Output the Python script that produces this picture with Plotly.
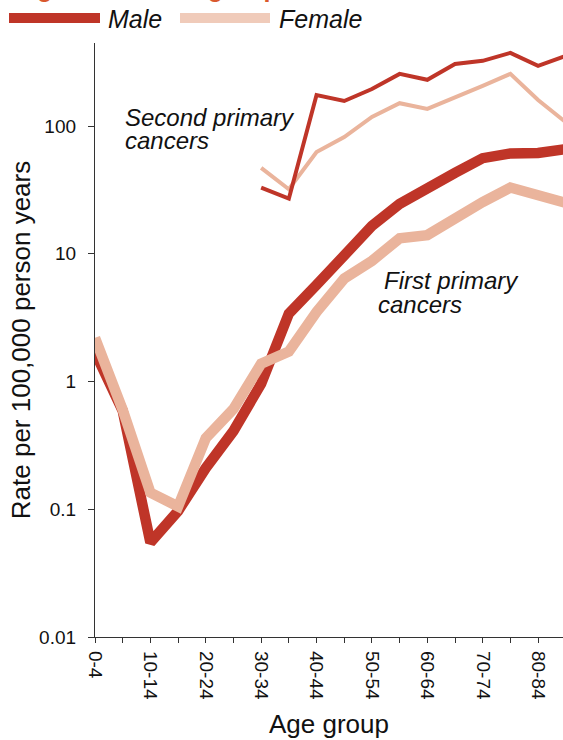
import plotly.graph_objects as go

age_groups = ["0-4", "5-9", "10-14", "15-19", "20-24", "25-29", "30-34", "35-39",
              "40-44", "45-49", "50-54", "55-59", "60-64", "65-69", "70-74", "75-79",
              "80-84", "85+"]
tick_labels = ["0-4", "", "10-14", "", "20-24", "", "30-34", "", "40-44", "",
               "50-54", "", "60-64", "", "70-74", "", "80-84", ""]

first_male = [1.7, 0.59, 0.055, 0.097, 0.21, 0.41, 0.96, 3.4, 5.7, 9.8, 16.5,
              24.6, 33, 43, 56, 61, 61.5, 66]
first_female = [2.2, 0.6, 0.135, 0.105, 0.36, 0.61, 1.38, 1.72, 3.5, 6.4, 8.8,
                13.2, 14, 19.3, 25.4, 33, 28.5, 25]
second_male = [None, None, None, None, None, None, 33, 27, 175, 157, 195, 256,
               230, 306, 324, 374, 296, 354]
second_female = [None, None, None, None, None, None, 47, 32, 62.5, 82, 118, 151,
                 136, 166, 206, 256, 160, 107]

y_ticks = [0.01, 0.1, 1, 10, 100]
y_tick_text = ["0.01", "0.1", "1", "10", "100"]
legend_names = ["Male", "Female"]

MALE = "#BF3528"
FEMALE = "#EAB49C"
FEMALE_KEY = "#F0CBBA"
FONT = "Liberation Sans, Arial, sans-serif"

W, H = 563, 740
ML, MR, MT, MB = 95, 0, 43, 103
PW, PH = W - ML - MR, H - MT - MB


def px_x(p):
    return (p - ML) / PW


def px_y(p):
    return (H - MB - p) / PH


fig = go.Figure()
fig.add_trace(go.Scatter(x=age_groups, y=first_male, mode="lines", name=legend_names[0],
                         line=dict(color=MALE, width=10.5)))
fig.add_trace(go.Scatter(x=age_groups, y=first_female, mode="lines", name=legend_names[1],
                         line=dict(color=FEMALE, width=10.5)))
fig.add_trace(go.Scatter(x=age_groups, y=second_female, mode="lines", name="Female (second)",
                         line=dict(color=FEMALE, width=4)))
fig.add_trace(go.Scatter(x=age_groups, y=second_male, mode="lines", name="Male (second)",
                         line=dict(color=MALE, width=4)))

ann_font = dict(family=FONT, size=24, color="#111111", style="italic")
for (ax, ay, txt) in [(1.0, 2.07, "Second primary"), (1.0, 1.885, "cancers"),
                      (10.35, 0.79, "First primary"), (10.13, 0.60, "cancers")]:
    fig.add_annotation(x=ax, y=ay, xref="x", yref="y", text=txt,
                       showarrow=False, xanchor="left", yanchor="middle", font=ann_font)

# cropped title (only descenders visible at the very top)
fig.add_annotation(x=px_x(10), y=px_y(3.5), xref="paper", yref="paper",
                   text="<b>Highest in older group</b>", showarrow=False,
                   xanchor="left", yanchor="bottom",
                   font=dict(family=FONT, size=25, color="#D9592E"))

# legend (drawn as key lines + labels)
leg_font = dict(family=FONT, size=25, color="#111111", style="italic")
for (x0, x1, col, tx, name) in [(9, 100, MALE, 106, legend_names[0]),
                                (180, 270, FEMALE_KEY, 277, legend_names[1])]:
    fig.add_shape(type="line", xref="paper", yref="paper",
                  x0=px_x(x0), x1=px_x(x1), y0=px_y(18), y1=px_y(18),
                  line=dict(color=col, width=10))
    fig.add_annotation(x=px_x(tx), y=px_y(19), xref="paper", yref="paper",
                       text=name, showarrow=False, xanchor="left", yanchor="middle",
                       font=leg_font)

fig.update_layout(
    width=W, height=H,
    margin=dict(l=ML, r=MR, t=MT, b=MB, autoexpand=False),
    paper_bgcolor="white", plot_bgcolor="white",
    font=dict(family=FONT, color="#111111"),
    showlegend=False,
    xaxis=dict(type="category", categoryorder="array", categoryarray=age_groups,
               range=[0, 16.9], tickmode="array", tickvals=age_groups,
               ticktext=tick_labels, tickangle=90, ticks="outside", ticklen=5,
               tickcolor="#333333", showline=True, linecolor="#333333", linewidth=1.3,
               showgrid=False, zeroline=False, automargin=False, ticklabelstandoff=4,
               tickfont=dict(family=FONT, size=19, color="#111111"),
               title=dict(text="Age group", font=dict(family=FONT, size=26, color="#111111"),
                          standoff=15)),
    yaxis=dict(type="log", range=[-2, 2.65], tickmode="array", tickvals=y_ticks,
               ticktext=y_tick_text, ticks="outside", ticklen=6, tickcolor="#333333",
               showline=True, linecolor="#333333", linewidth=1.3, showgrid=False,
               zeroline=False, ticklabelstandoff=8, automargin=False,
               tickfont=dict(family=FONT, size=19, color="#111111"),
               title=dict(text="Rate per 100,000 person years",
                          font=dict(family=FONT, size=26, color="#111111"), standoff=0)),
)

fig.write_html("out.html", config={"displayModeBar": False},
               post_script="document.body.style.margin='0';")
